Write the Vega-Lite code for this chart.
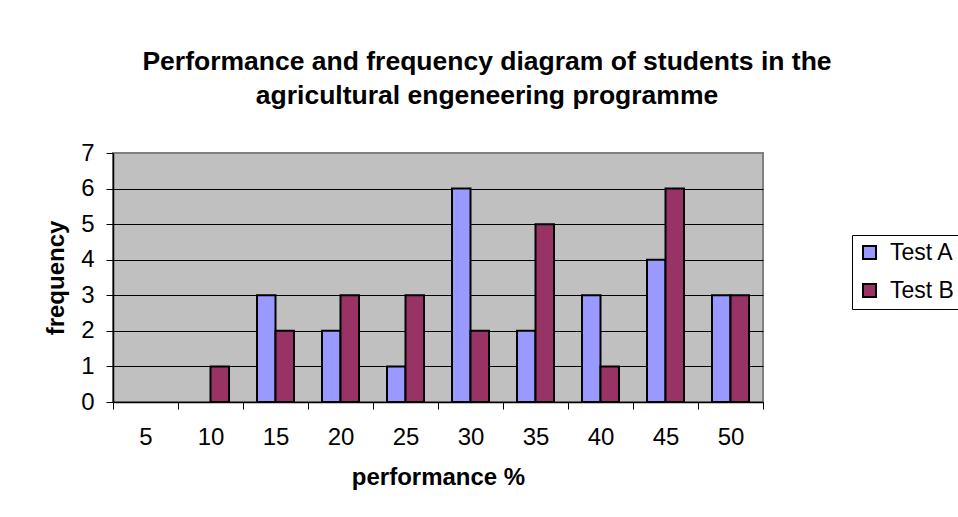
{
  "$schema": "https://vega.github.io/schema/vega-lite/v6.json",
  "width": 650,
  "height": 249,
  "autosize": {"type": "none"},
  "padding": {"left": 113, "top": 153, "right": 195, "bottom": 115},
  "background": "white",
  "title": {
    "text": ["Performance and frequency diagram of students in the", "agricultural engeneering programme"],
    "font": "Liberation Sans",
    "fontSize": 26.5,
    "fontWeight": "bold",
    "color": "black",
    "anchor": "middle",
    "frame": "group",
    "dx": 49,
    "offset": 32,
    "lineHeight": 34
  },
  "data": {
    "values": [
      {"performance": 5, "test": "Test A", "frequency": 0},
      {"performance": 5, "test": "Test B", "frequency": 0},
      {"performance": 10, "test": "Test A", "frequency": 0},
      {"performance": 10, "test": "Test B", "frequency": 1},
      {"performance": 15, "test": "Test A", "frequency": 3},
      {"performance": 15, "test": "Test B", "frequency": 2},
      {"performance": 20, "test": "Test A", "frequency": 2},
      {"performance": 20, "test": "Test B", "frequency": 3},
      {"performance": 25, "test": "Test A", "frequency": 1},
      {"performance": 25, "test": "Test B", "frequency": 3},
      {"performance": 30, "test": "Test A", "frequency": 6},
      {"performance": 30, "test": "Test B", "frequency": 2},
      {"performance": 35, "test": "Test A", "frequency": 2},
      {"performance": 35, "test": "Test B", "frequency": 5},
      {"performance": 40, "test": "Test A", "frequency": 3},
      {"performance": 40, "test": "Test B", "frequency": 1},
      {"performance": 45, "test": "Test A", "frequency": 4},
      {"performance": 45, "test": "Test B", "frequency": 6},
      {"performance": 50, "test": "Test A", "frequency": 3},
      {"performance": 50, "test": "Test B", "frequency": 3}
    ]
  },
  "transform": [{"filter": "datum.frequency > 0"}],
  "mark": {"type": "bar", "stroke": "black", "strokeWidth": 2},
  "encoding": {
    "x": {
      "field": "performance",
      "type": "ordinal",
      "scale": {"domain": [5, 10, 15, 20, 25, 30, 35, 40, 45, 50], "paddingInner": 0, "paddingOuter": 0},
      "axis": {
        "title": "performance %",
        "titleFontSize": 24,
        "titleFontWeight": "bold",
        "titleColor": "black",
        "titlePadding": 16,
        "labelFontSize": 24,
        "labelColor": "black",
        "labelAngle": 0,
        "labelPadding": 16,
        "tickBand": "extent",
        "tickSize": 7,
        "tickColor": "black",
        "domainColor": "black",
        "domainWidth": 1.5,
        "grid": false
      }
    },
    "xOffset": {"field": "test", "type": "nominal", "scale": {"domain": ["Test A", "Test B"], "paddingInner": 0, "paddingOuter": 0.757}},
    "y": {
      "field": "frequency",
      "type": "quantitative",
      "scale": {"domain": [0, 7], "nice": false},
      "axis": {
        "title": "frequency",
        "titleFontSize": 24,
        "titleFontWeight": "bold",
        "titleColor": "black",
        "titlePadding": 12,
        "values": [0, 1, 2, 3, 4, 5, 6, 7],
        "labelFontSize": 24,
        "labelColor": "black",
        "labelPadding": 12,
        "tickSize": 7,
        "tickColor": "black",
        "domainColor": "black",
        "domainWidth": 1.5,
        "grid": true,
        "gridColor": {"condition": {"test": "datum.value == 7", "value": "#808080"}, "value": "black"},
        "gridWidth": 1,
        "gridOpacity": 1
      }
    },
    "color": {
      "field": "test",
      "type": "nominal",
      "scale": {"domain": ["Test A", "Test B"], "range": ["#9999FF", "#993366"]},
      "legend": {
        "title": null,
        "orient": "none",
        "legendX": 739,
        "legendY": 82,
        "strokeColor": "black",
        "fillColor": "white",
        "padding": 6,
        "symbolType": "square",
        "symbolSize": 169,
        "symbolStrokeColor": "black",
        "symbolStrokeWidth": 2,
        "symbolOpacity": 1,
        "labelFontSize": 23,
        "labelColor": "black",
        "labelOffset": 9,
        "rowPadding": 14
      }
    }
  },
  "config": {
    "font": "Liberation Sans",
    "view": {"fill": "#C0C0C0", "stroke": "#808080", "strokeWidth": 2},
    "axis": {"labelFont": "Liberation Sans", "titleFont": "Liberation Sans"},
    "legend": {"labelFont": "Liberation Sans"}
  }
}
